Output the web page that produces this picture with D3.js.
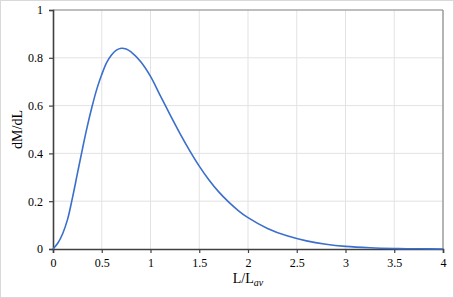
<!DOCTYPE html>
<html>
<head>
<meta charset="utf-8">
<script src="https://cdn.jsdelivr.net/npm/d3@7"></script>
<style>
body{margin:0;background:#fff;}
svg{display:block;font-family:"Liberation Serif","Times New Roman",serif;}
</style>
</head>
<body>
<svg id="svg1" width="454" height="298"></svg>
<script>
// values
const xVals = [0, 0.05, 0.1, 0.15, 0.2, 0.25, 0.3, 0.35, 0.4, 0.45, 0.5, 0.55, 0.6, 0.65, 0.7, 0.75, 0.8, 0.9, 1.0, 1.1, 1.2, 1.3, 1.4, 1.5, 1.6, 1.7, 1.8, 1.9, 2.0, 2.2, 2.4, 2.6, 2.8, 3.0, 3.25, 3.5, 3.75, 4.0];
const yVals = [0, 0.025, 0.065, 0.125, 0.215, 0.315, 0.415, 0.51, 0.595, 0.67, 0.73, 0.78, 0.812, 0.832, 0.84, 0.837, 0.825, 0.783, 0.722, 0.642, 0.562, 0.485, 0.413, 0.347, 0.289, 0.239, 0.197, 0.161, 0.131, 0.086, 0.055, 0.034, 0.02, 0.011, 0.005, 0.002, 0.0008, 0.0002];
const xTicks = [0, 0.5, 1, 1.5, 2, 2.5, 3, 3.5, 4];
const yTicks = [0, 0.2, 0.4, 0.6, 0.8, 1];

const svg = d3.select('#svg1');
const width = 454, height = 298;
const margin = {top:10, right:11, bottom:49, left:53};
const innerWidth = width - margin.left - margin.right;
const innerHeight = height - margin.top - margin.bottom;

// outer frame
svg.append('rect')
  .attr('x', 0.5).attr('y', 0.5)
  .attr('width', width - 1).attr('height', height - 1)
  .attr('fill', '#fff').attr('stroke', '#d9d9d9');

const g = svg.append('g').attr('transform', `translate(${margin.left},${margin.top})`);

const x = d3.scaleLinear().domain([0, 4]).range([0, innerWidth]);
const y = d3.scaleLinear().domain([0, 1]).range([innerHeight, 0]);

// grid
g.selectAll('.vgrid').data(xTicks.slice(1)).enter().append('line')
  .attr('x1', d => x(d)).attr('x2', d => x(d))
  .attr('y1', 0).attr('y2', innerHeight)
  .attr('stroke', '#e3e3e3').attr('stroke-width', 1);
g.selectAll('.hgrid').data(yTicks.slice(1)).enter().append('line')
  .attr('x1', 0).attr('x2', innerWidth)
  .attr('y1', d => y(d)).attr('y2', d => y(d))
  .attr('stroke', '#e3e3e3').attr('stroke-width', 1);

// top / right frame
g.append('line').attr('x1', 0).attr('x2', innerWidth).attr('y1', 0).attr('y2', 0)
  .attr('stroke', '#8c8c8c').attr('stroke-width', 1.2);
g.append('line').attr('x1', innerWidth).attr('x2', innerWidth).attr('y1', 0).attr('y2', innerHeight)
  .attr('stroke', '#8c8c8c').attr('stroke-width', 1.2);

// axes
const xAxis = d3.axisBottom(x).tickValues(xTicks).tickSize(4).tickPadding(5).tickFormat(d3.format('~g'));
const yAxis = d3.axisLeft(y).tickValues(yTicks).tickSize(4).tickPadding(6).tickFormat(d3.format('~g'));

const xAxisG = g.append('g').attr('transform', `translate(0,${innerHeight})`).call(xAxis);
const yAxisG = g.append('g').call(yAxis);
[xAxisG, yAxisG].forEach(a => {
  a.select('.domain').attr('stroke', '#404040').attr('stroke-width', 1.6);
  a.selectAll('.tick line').attr('stroke', '#404040').attr('stroke-width', 1.2);
  a.selectAll('.tick text').attr('fill', '#000').style('font-size', '12px')
    .style('font-family', '"Liberation Serif", serif');
});

// curve
const pts = xVals.map((d, i) => [d, yVals[i]]);
const line = d3.line().x(d => x(d[0])).y(d => y(d[1])).curve(d3.curveCatmullRom);
g.append('path').datum(pts)
  .attr('d', line)
  .attr('fill', 'none')
  .attr('stroke', '#3b6fcc')
  .attr('stroke-width', 1.6);

// axis titles
const xt = svg.append('text')
  .attr('x', margin.left + innerWidth / 2).attr('y', 283)
  .attr('text-anchor', 'middle').style('font-size', '14px').attr('fill', '#000');
xt.append('tspan').text('L/L');
xt.append('tspan').attr('dy', 3).style('font-size', '10px').style('font-style', 'italic').text('av');

svg.append('text')
  .attr('transform', `translate(22,${margin.top + innerHeight / 2}) rotate(-90)`)
  .attr('text-anchor', 'middle').style('font-size', '14px').attr('fill', '#000')
  .text('dM/dL');
</script>
</body>
</html>
